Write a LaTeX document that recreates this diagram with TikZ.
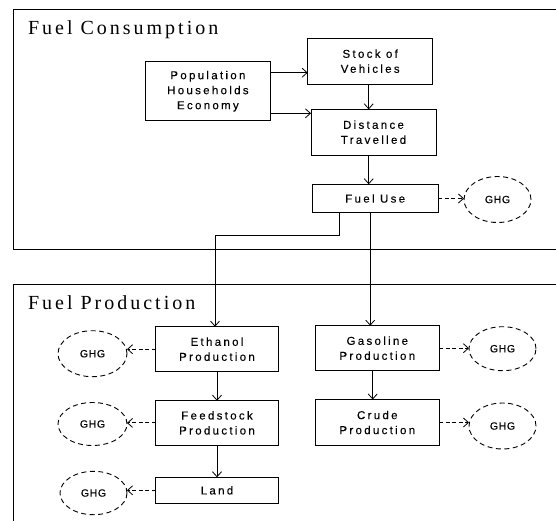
\documentclass[tikz,border=0pt]{standalone}
\usepackage{fontspec}
\usetikzlibrary{arrows.meta,shapes.geometric}
\newfontfamily\titlefont[LetterSpace=15]{Liberation Serif}
\newfontfamily\boxfont[LetterSpace=20,FakeBold=0.15]{Liberation Sans}
\newfontfamily\ghgfont[LetterSpace=6,FakeBold=0.15]{Liberation Sans}
\begin{document}
\begin{tikzpicture}[x=1pt,y=-1pt,
  line width=0.9pt,
  every node/.style={inner sep=0pt, outer sep=0pt},
  tip/.style={-{Straight Barb[length=5pt,width=9pt,line width=0.8pt]}},
  panel/.style={draw, line width=1pt},
  paneltitle/.style={anchor=base west, font=\titlefont\fontsize{20}{22}\selectfont},
  procbox/.style={draw, rectangle, align=center,
    font=\boxfont\fontsize{11.5}{15}\selectfont},
  ghg/.style={draw, ellipse, dash pattern=on 5pt off 3.5pt,
    font=\ghgfont\fontsize{10.5}{12}\selectfont},
  emit/.style={tip, dash pattern=on 4pt off 2.5pt}
]
\useasboundingbox (0,0) rectangle (556,520);
\clip (0,0) rectangle (556,520);

% the two panels
\draw[panel] (13.3,9.3) rectangle (600,249);
\draw[panel] (13.3,284) rectangle (600,560);
\node[paneltitle] (tcons) at (28,34) {Fuel Consumption};
\node[paneltitle] (tprod) at (28,309.3) {Fuel Production};

% consumption chain
\node[procbox, minimum width=124.3pt, minimum height=59pt] (pop) at (207.9,91.2)
  {Population\\Households\\Economy};
\node[procbox, minimum width=125pt, minimum height=45.7pt] (stock) at (370.2,61.2)
  {Stock of\\Vehicles};
\node[procbox, minimum width=125pt, minimum height=45.7pt] (dist) at (373.5,132.2)
  {Distance\\Travelled};
\node[procbox, minimum width=126.3pt, minimum height=28.4pt] (fuel) at (375.2,198.5)
  {Fuel Use};
\node[ghg, minimum width=67pt, minimum height=46pt] (g0) at (497.5,199.5) {GHG};

% production chains
\node[procbox, minimum width=122.6pt, minimum height=45pt] (eth) at (217,349.2)
  {Ethanol\\Production};
\node[procbox, minimum width=122.6pt, minimum height=44.3pt] (feed) at (217,422.9)
  {Feedstock\\Production};
\node[procbox, minimum width=122.6pt, minimum height=26pt] (land) at (217,490.3)
  {Land};
\node[procbox, minimum width=124pt, minimum height=45pt] (gas) at (377.3,348.2)
  {Gasoline\\Production};
\node[procbox, minimum width=124pt, minimum height=46pt] (crude) at (377.3,422.5)
  {Crude\\Production};

\node[ghg, minimum width=69pt, minimum height=46pt] (g1) at (92.5,353.7) {GHG};
\node[ghg, minimum width=69pt, minimum height=43pt] (g2) at (92.5,424) {GHG};
\node[ghg, minimum width=67pt, minimum height=43.4pt] (g3) at (93.5,493) {GHG};
\node[ghg, minimum width=67pt, minimum height=44pt] (g4) at (502.5,348.7) {GHG};
\node[ghg, minimum width=67pt, minimum height=46pt] (g5) at (502.5,426) {GHG};

% solid flows
\draw[tip] ([yshift=18.5pt]pop.east) -- ([yshift=18.5pt]pop.east -| stock.west);
\draw[tip] ([yshift=-22.1pt]pop.east) -- ([yshift=-22.1pt]pop.east -| dist.west);
\draw[tip] ([xshift=-1.5pt]stock.south) -- ([xshift=-1.5pt]stock.south |- dist.north);
\draw[tip] ([xshift=-4.8pt]dist.south) -- ([xshift=-4.8pt]dist.south |- fuel.north);
\draw[tip] ([xshift=-36pt]fuel.south) -- ++(0,22.3) -| ([xshift=-2pt]eth.north);
\draw[tip] ([xshift=-5pt]fuel.south) -- ([xshift=-5pt]fuel.south |- gas.north);
\draw[tip] (eth.south) -- (feed.north);
\draw[tip] (feed.south) -- (land.north);
\draw[tip] ([xshift=-4.6pt]gas.south) -- ([xshift=-4.6pt]gas.south |- crude.north);

% emissions
\draw[emit] (fuel.east) -- (fuel.east -| g0.west);
\draw[emit] (eth.west) -- (eth.west -| g1.east);
\draw[emit] (feed.west) -- (feed.west -| g2.east);
\draw[emit] (land.west) -- (land.west -| g3.east);
\draw[emit] (gas.east) -- (gas.east -| g4.west);
\draw[emit] (crude.east) -- (crude.east -| g5.west);
\end{tikzpicture}
\end{document}
